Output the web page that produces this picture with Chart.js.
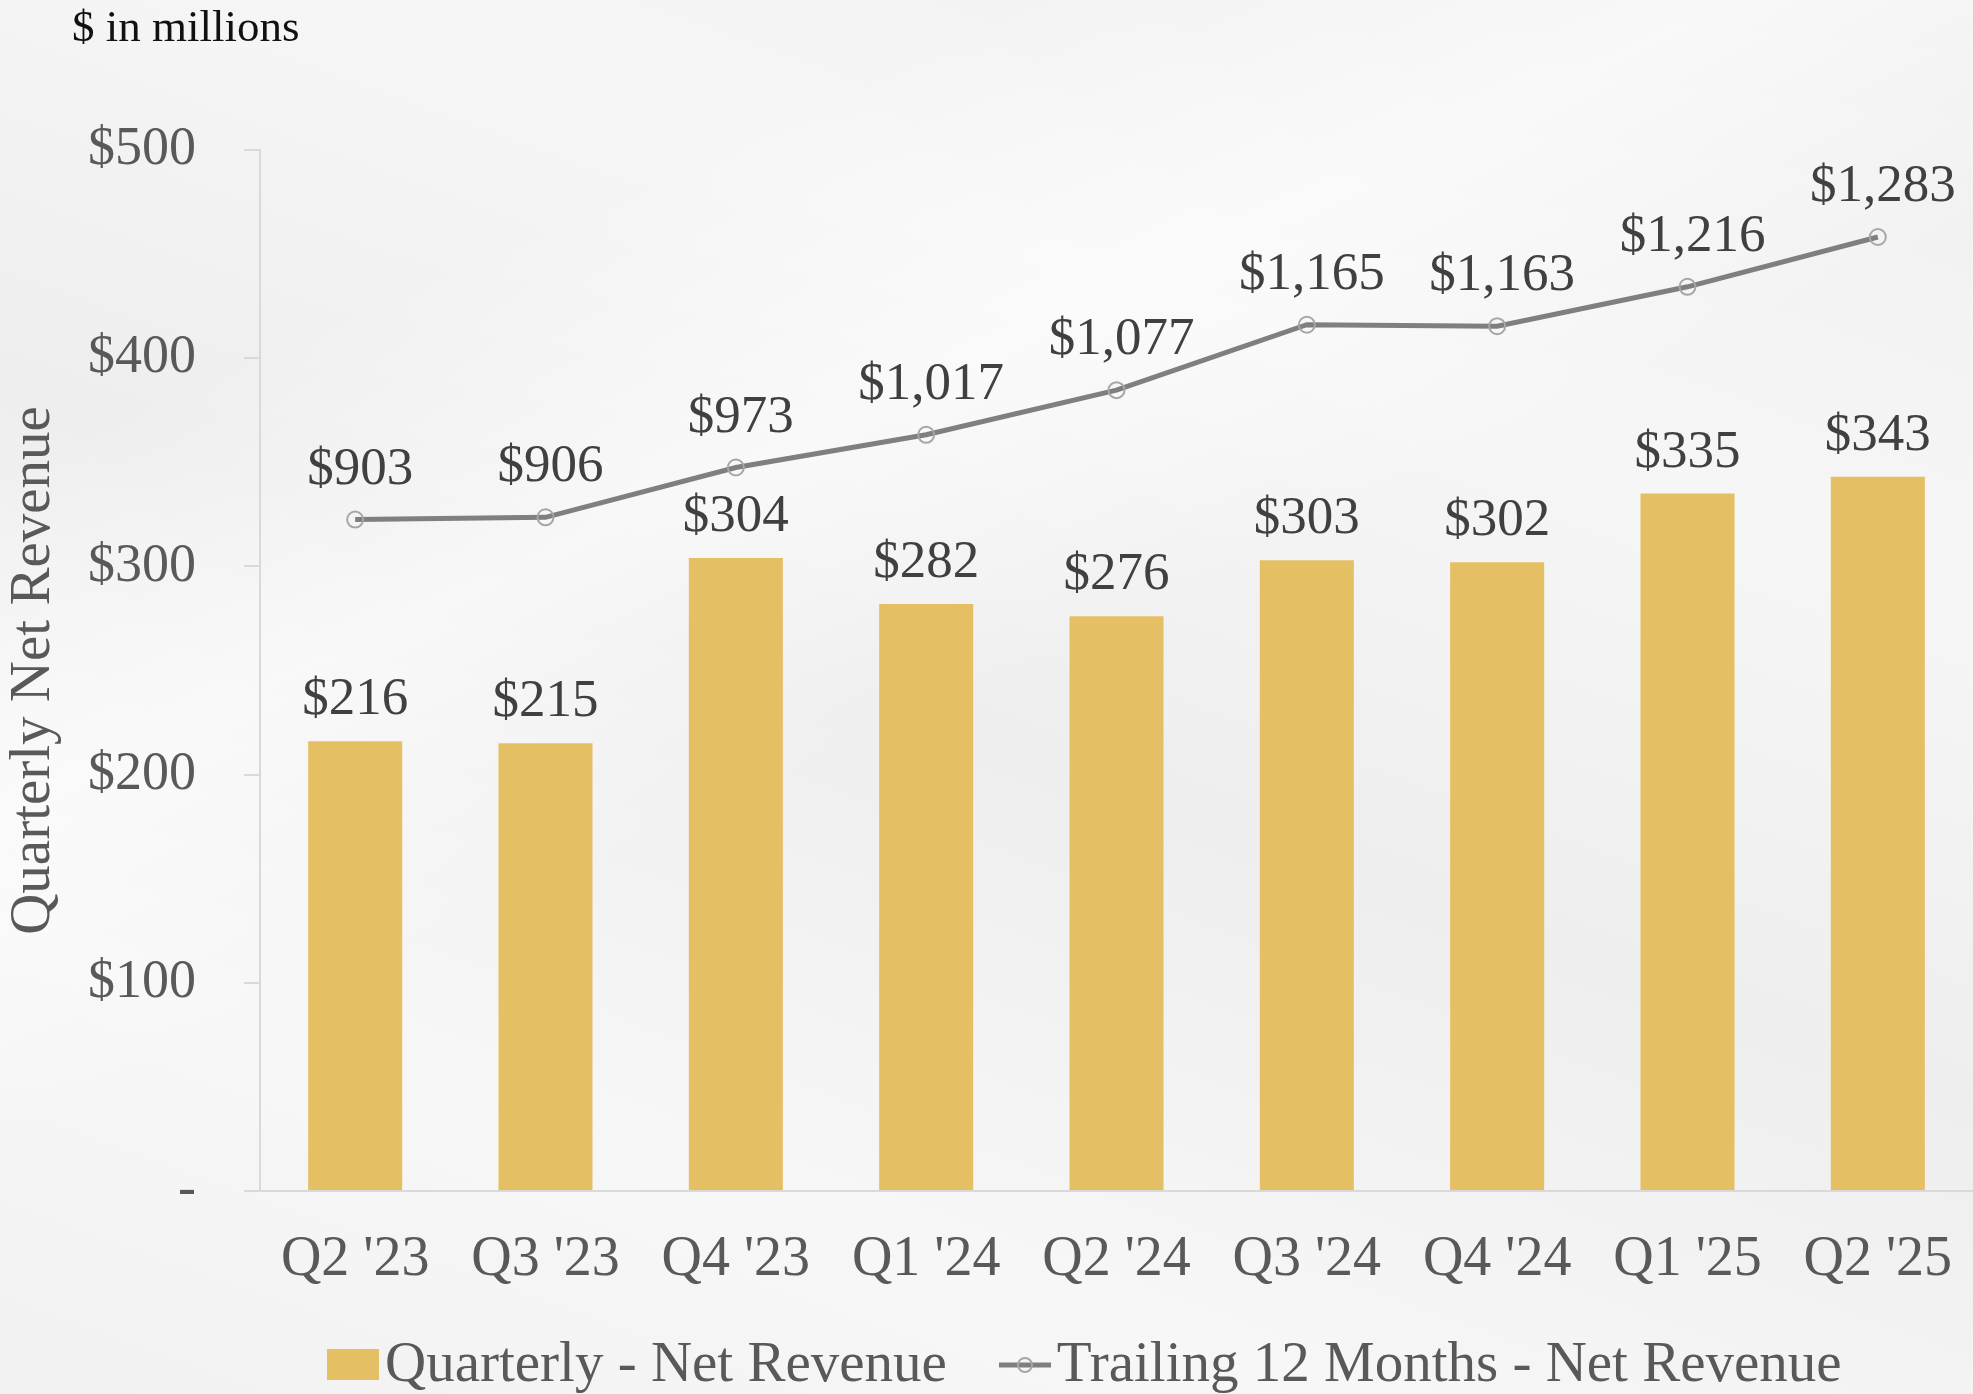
<!DOCTYPE html>
<html>
<head>
<meta charset="utf-8">
<script src="https://cdn.jsdelivr.net/npm/chart.js@4.4.1/dist/chart.umd.min.js"></script>
<style>
  html, body { margin: 0; padding: 0; }
  body {
    width: 1973px; height: 1394px; overflow: hidden; position: relative;
    font-family: 'Liberation Serif', serif;
    background:
      linear-gradient(155deg, rgba(255,255,255,0) 20%, rgba(255,255,255,0.55) 35%, rgba(255,255,255,0) 50%),
      linear-gradient(200deg, #efeff0 0%, #f6f6f7 28%, #eeeeef 52%, #f7f7f8 78%, #f1f1f2 100%);
  }
  #wrap { position: absolute; left: 0; top: 0; width: 1973px; height: 1394px; }
  #units { position: absolute; left: 72px; top: 4px; font-size: 45px; line-height: 1; color: #111; }
  #legend { position: absolute; left: 327px; top: 1333px; height: 57px; display: flex; align-items: center;
            font-size: 57px; line-height: 57px; color: #595959; white-space: nowrap; }
  #legend .item { display: flex; align-items: center; margin-right: 52px; }
  #legend .swatch { width: 52px; height: 31px; margin-right: 6px; position: relative; top: 3px; }
  #legend canvas { margin-right: 6px; position: relative; top: 3px; }
</style>
</head>
<body>
<div id="wrap"><canvas id="revenueChart"></canvas></div>
<div id="units">$ in millions</div>
<div id="legend"></div>
<script>
const quarters = ["Q2 '23", "Q3 '23", "Q4 '23", "Q1 '24", "Q2 '24", "Q3 '24", "Q4 '24", "Q1 '25", "Q2 '25"];
const quarterlyRevenue = [216, 215, 304, 282, 276, 303, 302, 335, 343];
const ttmRevenue = [903, 906, 973, 1017, 1077, 1165, 1163, 1216, 1283];
const revenueTicks = [0, 100, 200, 300, 400, 500];
const seriesNames = ['Quarterly - Net Revenue', 'Trailing 12 Months - Net Revenue'];

const gold = '#E5BF63';
const lineGray = '#7F7F7F';
const markerGray = '#A6A6A6';
const axisGray = '#D9D9D9';
const textGray = '#595959';

Chart.defaults.font.family = "'Liberation Serif', serif";
Chart.defaults.color = textGray;

// draws the $ value above each bar and each point
const valueLabels = {
    id: 'valueLabels',
    afterDatasetsDraw(chart) {
        const ctx = chart.ctx;
        ctx.save();
        ctx.font = "53px 'Liberation Serif'";
        ctx.fillStyle = '#404040';
        ctx.textAlign = 'center';
        ctx.textBaseline = 'alphabetic';
        chart.data.datasets.forEach((ds, i) => {
            const meta = chart.getDatasetMeta(i);
            const lift = ds.type === 'line' ? 36 : 27;
            meta.data.forEach((el, j) => {
                ctx.fillText('$' + ds.data[j].toLocaleString('en-US'), el.x + (ds.type === 'line' ? 5 : 0), el.y - lift);
            });
        });
        ctx.restore();
    }
};

const chart = new Chart(document.getElementById('revenueChart'), {
    data: {
        labels: quarters,
        datasets: [{
            type: 'bar',
            label: seriesNames[0],
            data: quarterlyRevenue,
            backgroundColor: gold,
            categoryPercentage: 1,
            barPercentage: 0.494,
            yAxisID: 'y',
            order: 1
        }, {
            type: 'line',
            label: seriesNames[1],
            data: ttmRevenue,
            borderColor: lineGray,
            borderWidth: 5,
            pointRadius: 8,
            pointBorderWidth: 2,
            pointBorderColor: markerGray,
            pointBackgroundColor: 'rgba(0,0,0,0)',
            tension: 0,
            yAxisID: 'y1',
            order: 0
        }]
    },
    options: {
        responsive: true,
        maintainAspectRatio: false,
        animation: false,
        layout: { padding: { top: 150, right: 0, bottom: 0, left: 0 } },
        plugins: {
            legend: { display: false },
            tooltip: { enabled: false }
        },
        scales: {
            x: {
                grid: { display: false, drawTicks: false },
                border: { display: true, color: axisGray, width: 2 },
                ticks: { font: { size: 56 }, color: textGray, padding: 36 },
                afterFit(scale) {
                    scale.height = 203;
                    scale.paddingLeft = 0;
                    scale.paddingRight = 0;
                }
            },
            y: {
                position: 'left',
                min: revenueTicks[0],
                max: revenueTicks[revenueTicks.length - 1],
                afterBuildTicks(scale) { scale.ticks = revenueTicks.map(v => ({ value: v })); },
                grid: { drawOnChartArea: false, drawTicks: true, tickLength: 16, color: axisGray, lineWidth: 2 },
                border: { display: true, color: axisGray, width: 2 },
                ticks: {
                    font: { size: 54 },
                    color: textGray,
                    padding: 48,
                    callback: v => v === 0 ? '-' : '$' + v
                },
                title: {
                    display: true,
                    text: 'Quarterly Net Revenue',
                    font: { size: 57 },
                    color: textGray,
                    padding: { top: 0, bottom: 0 }
                },
                afterFit(scale) { scale.width = 260; }
            },
            y1: {
                display: false,
                min: 0,
                max: 1400
            }
        }
    },
    plugins: [valueLabels]
});

// the plot runs to the right edge of the picture: widen the canvas by the
// gap Chart.js leaves on the right, the overflow is clipped by the body
const gap = chart.width - chart.chartArea.right;
if (gap > 0.5) {
    const w = chart.width + gap;
    document.getElementById('wrap').style.width = w + 'px';
    chart.resize(w, chart.height);
}

// legend built from the datasets
const legendEl = document.getElementById('legend');
chart.data.datasets.forEach(ds => {
    const item = document.createElement('div');
    item.className = 'item';
    if (ds.type === 'bar') {
        const sw = document.createElement('div');
        sw.className = 'swatch';
        sw.style.background = ds.backgroundColor;
        item.appendChild(sw);
    } else {
        const c = document.createElement('canvas');
        c.width = 52; c.height = 20;
        const g = c.getContext('2d');
        g.strokeStyle = ds.borderColor;
        g.lineWidth = 5;
        g.beginPath(); g.moveTo(0, 10); g.lineTo(52, 10); g.stroke();
        g.strokeStyle = ds.pointBorderColor;
        g.lineWidth = 2;
        g.beginPath(); g.arc(26, 10, 7, 0, Math.PI * 2); g.stroke();
        item.appendChild(c);
    }
    const span = document.createElement('span');
    span.textContent = ds.label;
    item.appendChild(span);
    legendEl.appendChild(item);
});
</script>
</body>
</html>
